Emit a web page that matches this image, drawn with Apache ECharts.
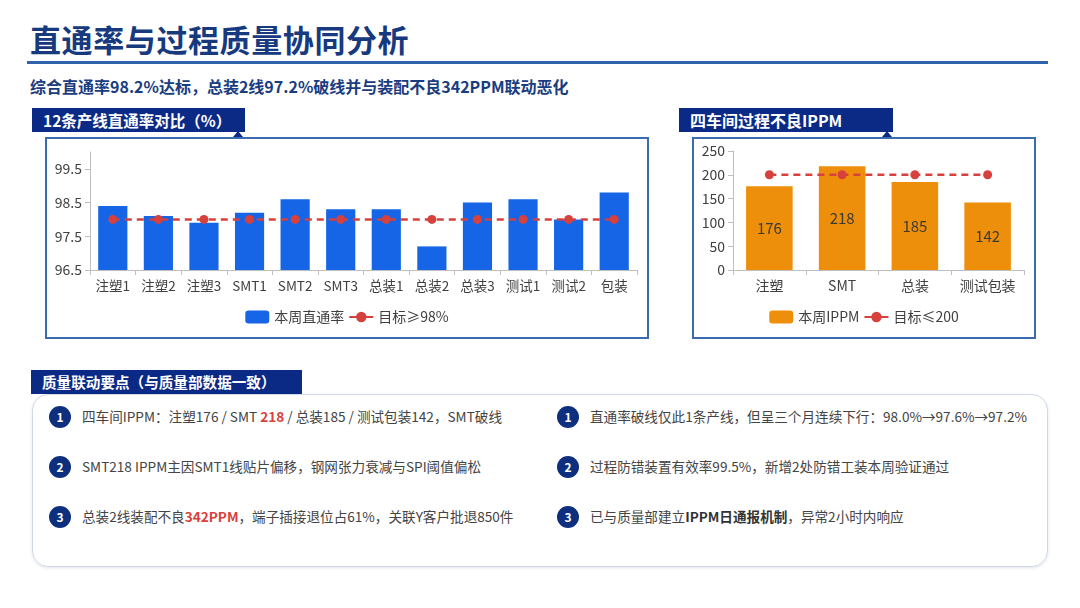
<!DOCTYPE html>
<html>
<head>
<meta charset="utf-8">
<title>直通率与过程质量协同分析</title>
<script src="https://cdn.jsdelivr.net/npm/echarts@6/dist/echarts.min.js"></script>
<style>
  html, body { margin: 0; padding: 0; background: #fff; }
  body { width: 1080px; height: 608px; position: relative; overflow: hidden;
         font-family: "Noto Sans CJK SC", "Noto Sans", sans-serif; }
  .abs { position: absolute; }
  #title { left: 30px; top: 17px; font-size: 31px; font-weight: 700; color: #173a7e; letter-spacing: 0.6px; line-height: 44px; }
  #rule { left: 27px; top: 61px; width: 1021px; height: 3px; background: #2f63ad; }
  #sub { left: 30px; top: 75px; font-size: 16px; font-weight: 700; color: #1a3c80; line-height: 22px; }
  .hdr { background: #0b2a85; color: #fff; font-weight: 700; font-size: 15.5px; line-height: 24px; height: 24px; padding-left: 11px; box-sizing: border-box; white-space: nowrap; }
  .panel { border: 2px solid #3a6db0; box-sizing: border-box; background: #fff; }
  .notch { width: 0; height: 0; border-left: 5px solid transparent; border-right: 5px solid transparent; border-bottom: 6px solid #0b2a85; }
  #box3 { left: 32px; top: 394px; width: 1016px; height: 173px; border: 1.5px solid #cfd8e6; border-radius: 16px; box-sizing: border-box; box-shadow: 0 1px 3px rgba(60,80,120,0.15); }
  .num { width: 22px; height: 22px; border-radius: 50%; background: #0d2f7e; color: #fff; font-size: 12px; font-weight: 700; text-align: center; line-height: 22px; }
  .txt { font-size: 13.6px; color: #444; line-height: 20px; white-space: nowrap; }
  .red { color: #d8413b; font-weight: 700; }
  .bold { color: #333; font-weight: 700; }
</style>
</head>
<body>
<div id="title" class="abs">直通率与过程质量协同分析</div>
<div id="rule" class="abs"></div>
<div id="sub" class="abs">综合直通率98.2%达标，总装2线97.2%破线并与装配不良342PPM联动恶化</div>

<div class="abs hdr" style="left:32px;top:108px;width:213px;">12条产线直通率对比（%）</div>
<div class="abs panel" style="left:45px;top:137px;width:604px;height:202px;"></div>
<div class="abs notch" style="left:233px;top:131px;"></div>
<div id="chartL" class="abs" style="left:45px;top:137px;width:604px;height:202px;"></div>

<div class="abs hdr" style="left:679px;top:108px;width:214px;font-size:16px;">四车间过程不良IPPM</div>
<div class="abs panel" style="left:692px;top:137px;width:344px;height:202px;"></div>
<div class="abs notch" style="left:882px;top:131px;"></div>
<div id="chartR" class="abs" style="left:692px;top:137px;width:344px;height:202px;"></div>

<div id="box3" class="abs"></div>
<div class="abs hdr" style="left:31px;top:370px;width:271px;font-size:14.6px;">质量联动要点（与质量部数据一致）</div>

<div class="abs num" style="left:49px;top:406px;">1</div>
<div class="abs txt" style="left:82px;top:406px;">四车间IPPM：注塑176 / SMT <span class="red">218</span> / 总装185 / 测试包装142，SMT破线</div>
<div class="abs num" style="left:49px;top:456px;">2</div>
<div class="abs txt" style="left:82px;top:456px;">SMT218 IPPM主因SMT1线贴片偏移，钢网张力衰减与SPI阈值偏松</div>
<div class="abs num" style="left:49px;top:506px;">3</div>
<div class="abs txt" style="left:82px;top:506px;">总装2线装配不良<span class="red">342PPM</span>，端子插接退位占61%，关联Y客户批退850件</div>

<div class="abs num" style="left:557px;top:406px;">1</div>
<div class="abs txt" style="left:590px;top:406px;">直通率破线仅此1条产线，但呈三个月连续下行：98.0%→97.6%→97.2%</div>
<div class="abs num" style="left:557px;top:456px;">2</div>
<div class="abs txt" style="left:590px;top:456px;">过程防错装置有效率99.5%，新增2处防错工装本周验证通过</div>
<div class="abs num" style="left:557px;top:506px;">3</div>
<div class="abs txt" style="left:590px;top:506px;">已与质量部建立<span class="bold">IPPM日通报机制</span>，异常2小时内响应</div>

<script>
// 12 条产线直通率
var lineNames = ['注塑1', '注塑2', '注塑3', 'SMT1', 'SMT2', 'SMT3', '总装1', '总装2', '总装3', '测试1', '测试2', '包装'];
var fpyValues = [98.4, 98.1, 97.9, 98.2, 98.6, 98.3, 98.3, 97.2, 98.5, 98.6, 98.0, 98.8];
var fpyTarget = [98, 98, 98, 98, 98, 98, 98, 98, 98, 98, 98, 98];
var fpyTicks = [96.5, 97.5, 98.5, 99.5];

// 四车间 IPPM
var shopNames = ['注塑', 'SMT', '总装', '测试包装'];
var ippmValues = [176, 218, 185, 142];
var ippmTarget = [200, 200, 200, 200];

var FONT = '"Noto Sans CJK SC", "Noto Sans", sans-serif';
var axisGray = '#bfbfbf';
var labelColor = '#404040';

function baseAxisX(cats, size) {
  return {
    type: 'category', data: cats,
    axisLine: { lineStyle: { color: axisGray } },
    axisTick: { show: true, lineStyle: { color: axisGray } },
    axisLabel: { interval: 0, color: labelColor, fontSize: size, fontFamily: FONT, margin: 9 }
  };
}

var chartL = echarts.init(document.getElementById('chartL'));
chartL.setOption({
  animation: false,
  grid: { left: 45, right: 12, top: 15, bottom: 69 },
  legend: {
    bottom: 10, left: 'center', itemWidth: 24, itemHeight: 13, itemGap: 4,
    textStyle: { color: labelColor, fontSize: 14, fontFamily: FONT },
    lineStyle: { type: 'solid' },
    data: ['本周直通率', '目标≥98%']
  },
  xAxis: baseAxisX(lineNames, 13.5),
  yAxis: {
    type: 'value', min: 96.5, max: 100,
    splitLine: { show: false },
    axisLine: { show: true, lineStyle: { color: axisGray } },
    axisTick: { show: true, customValues: fpyTicks, lineStyle: { color: axisGray } },
    axisLabel: { customValues: fpyTicks, color: labelColor, fontSize: 14, fontFamily: FONT, margin: 8,
      formatter: function (v) { return v.toFixed(1); } }
  },
  series: [
    { name: '本周直通率', type: 'bar', data: fpyValues, barWidth: '64%',
      itemStyle: { color: '#1565e6' } },
    { name: '目标≥98%', type: 'line', data: fpyTarget, symbol: 'circle', symbolSize: 9,
      lineStyle: { color: '#d6403d', width: 2.5, type: [7, 5] },
      itemStyle: { color: '#d6403d' }, z: 5 }
  ]
});

var chartR = echarts.init(document.getElementById('chartR'));
chartR.setOption({
  animation: false,
  grid: { left: 41, right: 12, top: 14, bottom: 69 },
  legend: {
    bottom: 10, left: 'center', itemWidth: 24, itemHeight: 13, itemGap: 4,
    textStyle: { color: labelColor, fontSize: 14, fontFamily: FONT },
    lineStyle: { type: 'solid' },
    data: ['本周IPPM', '目标≤200']
  },
  xAxis: baseAxisX(shopNames, 14),
  yAxis: {
    type: 'value', min: 0, max: 250, interval: 50,
    splitLine: { show: false },
    axisLine: { show: true, lineStyle: { color: axisGray } },
    axisTick: { show: true, lineStyle: { color: axisGray } },
    axisLabel: { color: labelColor, fontSize: 14, fontFamily: FONT, margin: 8 }
  },
  series: [
    { name: '本周IPPM', type: 'bar', data: ippmValues, barWidth: '64%',
      itemStyle: { color: '#ee8f0b' },
      label: { show: true, position: 'inside', color: '#3a3a3a', fontSize: 15, fontFamily: FONT } },
    { name: '目标≤200', type: 'line', data: ippmTarget, symbol: 'circle', symbolSize: 9,
      lineStyle: { color: '#d6403d', width: 2.5, type: [7, 5] },
      itemStyle: { color: '#d6403d' }, z: 5 }
  ]
});
</script>
</body>
</html>
